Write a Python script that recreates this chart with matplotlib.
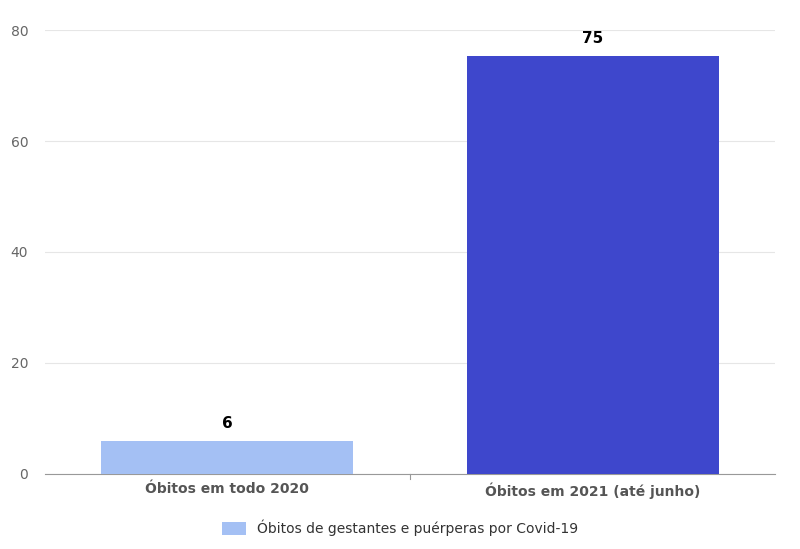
import matplotlib
matplotlib.use("Agg")
import matplotlib.pyplot as plt

categories = ["Óbitos em todo 2020", "Óbitos em 2021 (até junho)"]
values = [6, 75.3]
labels = ["6", "75"]
colors = ["#a4c0f4", "#3e47cc"]
legend_label = "Óbitos de gestantes e puérperas por Covid-19"

fig = plt.figure(figsize=(8, 5.49), dpi=100)
ax = fig.add_axes([0.056, 0.137, 0.913, 0.808])
x = [0, 1]
bars = ax.bar(x, values, width=0.69, color=colors, zorder=3)
for xi, v, l in zip(x, values, labels):
    ax.text(xi, v + 1.8, l, ha="center", va="bottom", fontsize=11, fontweight="bold", color="black")
ax.set_xlim(-0.5, 1.5)
ax.set_ylim(0, 80)
ax.set_yticks([0, 20, 40, 60, 80])
ax.set_xticks(x)
ax.set_xticklabels(categories, fontsize=10, fontweight="bold", color="#555555")
ax.tick_params(axis="y", length=0, labelsize=10, labelcolor="#666666", pad=12)
ax.tick_params(axis="x", length=0, pad=6)
ax.grid(axis="y", color="#e6e6e6", linewidth=0.8, zorder=0)
for s in ["top", "right", "left"]:
    ax.spines[s].set_visible(False)
ax.spines["bottom"].set_color("#999999")
ax.axvline(0.5, ymin=-0.012, ymax=0, color="#999999", linewidth=0.8, clip_on=False)
from matplotlib.patches import Patch
fig.legend(handles=[Patch(facecolor=colors[0], edgecolor="none")], labels=[legend_label],
           loc="center", bbox_to_anchor=(0.5, 0.038), frameon=False, fontsize=10,
           handlelength=1.7, handleheight=1.0, labelcolor="#333333")
fig.savefig("out.png", dpi=100)
